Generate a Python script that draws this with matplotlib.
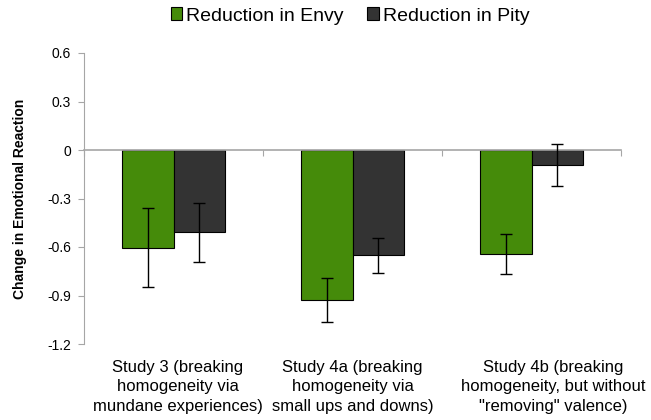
import matplotlib
matplotlib.use("Agg")
import matplotlib.pyplot as plt
import matplotlib.transforms as mtransforms
from matplotlib.patches import Patch
import numpy as np

plt.rcParams['font.family'] = ['Liberation Sans', 'DejaVu Sans']

categories = ["Study 3 (breaking\nhomogeneity via\nmundane experiences)",
              "Study 4a (breaking\nhomogeneity via\nsmall ups and downs)",
              "Study 4b (breaking\nhomogeneity, but without\n\"removing\" valence)"]
envy = [-0.605, -0.927, -0.644]
envy_err = [0.245, 0.135, 0.125]
pity = [-0.509, -0.652, -0.094]
pity_err = [0.184, 0.108, 0.130]
series_names = ["Reduction in Envy", "Reduction in Pity"]
yticks = [0.6, 0.3, 0, -0.3, -0.6, -0.9, -1.2]
ytick_labels = ["0.6", "0.3", "0", "-0.3", "-0.6", "-0.9", "-1.2"]

green = "#458B0A"
dark = "#333333"
gray = "#A6A6A6"

fig = plt.figure(figsize=(6.51, 4.20), dpi=100)
ax = fig.add_axes([84/651, 1-344/420, (621-84)/651, (344-53)/420])

x = np.arange(len(categories)) + 0.5
w = 0.287
ax.bar(x - w/2, envy, w, color=green, edgecolor="black", linewidth=0.8, zorder=2)
ax.bar(x + w/2, pity, w, color=dark, edgecolor="black", linewidth=0.8, zorder=2)
ax.errorbar(x - w/2, envy, yerr=envy_err, fmt="none", ecolor="black",
            elinewidth=1, capsize=4, capthick=1, zorder=3)
ax.errorbar(x + w/2, pity, yerr=pity_err, fmt="none", ecolor="black",
            elinewidth=1, capsize=4, capthick=1, zorder=3)

ax.set_xlim(0, len(categories))
ax.set_ylim(-1.2, 0.6)
ax.set_yticks(yticks)
ax.set_yticklabels(ytick_labels, fontsize=10)
ax.tick_params(axis="y", direction="out", length=4, color=gray, pad=5.5)

for s in ["top", "right"]:
    ax.spines[s].set_visible(False)
ax.spines["left"].set_color(gray)
ax.spines["bottom"].set_position(("data", 0))
ax.spines["bottom"].set_color(gray)
ax.spines["bottom"].set_linewidth(1.2)
ax.set_xticks(np.arange(len(categories) + 1))
ax.set_xticklabels([])
ax.tick_params(axis="x", direction="out", length=4, color=gray)

# label horizontal nudges in pixels (reference labels are not exactly centred)
nudges_px = [4.5, 0, 22]
trans = mtransforms.blended_transform_factory(ax.transData, ax.transAxes)
for xi, lab, dx in zip(x, categories, nudges_px):
    t = trans + mtransforms.ScaledTranslation(dx / 100, 0, fig.dpi_scale_trans)
    ax.text(xi, -0.055, lab, transform=t, ha="center", va="top", multialignment="center",
            fontsize=12, linespacing=1.36)

ax.set_ylabel("Change in Emotional Reaction", fontsize=10, fontweight="bold", labelpad=14)

handles = [Patch(facecolor=green, edgecolor="black", linewidth=0.8),
           Patch(facecolor=dark, edgecolor="black", linewidth=0.8)]
fig.legend(handles, series_names, loc="center", bbox_to_anchor=(350/651, 1-16/420),
           ncol=2, frameon=False, fontsize=14, handlelength=0.6, handleheight=0.6,
           handletextpad=0.2, columnspacing=1.2)

fig.savefig("out.png", dpi=100)
